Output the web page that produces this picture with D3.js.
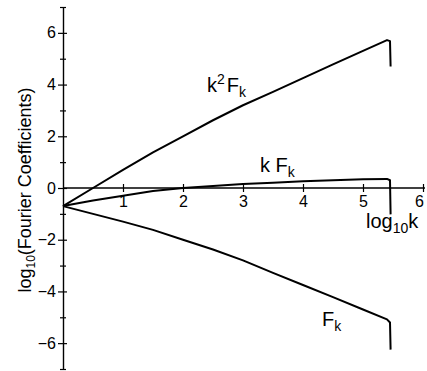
<!DOCTYPE html>
<html>
<head>
<meta charset="utf-8">
<script src="https://cdn.jsdelivr.net/npm/d3@7"></script>
<style>
  html, body { margin: 0; padding: 0; background: #fff; }
  svg { display: block; font-family: "Liberation Sans", Arial, sans-serif; }
</style>
</head>
<body>
<svg id="chart" width="427" height="371"></svg>
<script>
// log10 of the wavenumber k
const logk = [0, 0.5, 1, 1.5, 2, 2.5, 3, 3.5, 4, 4.5, 5, 5.4, 5.45, 5.46];
// log10 of the Fourier coefficients, three weightings
const k2Fk = [-0.7, 0.0, 0.7, 1.38, 2.0, 2.62, 3.2, 3.72, 4.25, 4.78, 5.3, 5.72, 5.68, 4.7];
const kFk  = [-0.7, -0.48, -0.3, -0.12, 0.0, 0.08, 0.15, 0.2, 0.26, 0.3, 0.34, 0.35, 0.3, -1.02];
const Fk   = [-0.7, -1.0, -1.3, -1.62, -2.0, -2.38, -2.8, -3.28, -3.75, -4.22, -4.7, -5.08, -5.2, -6.25];

const xMajor = [1, 2, 3, 4, 5, 6];
const yMajor = [-6, -4, -2, 0, 2, 4, 6];
const yMinor = [-7, -5, -3, -1, 1, 3, 5, 7];

const svg = d3.select("#chart");

const x = d3.scaleLinear().domain([0, 6]).range([63, 423]);
const y = d3.scaleLinear().domain([-7, 7]).range([369, 7]);

// y axis through x = 0, ticks crossing the line
const yAxisG = svg.append("g")
  .attr("transform", `translate(${x(0)},0)`)
  .call(d3.axisLeft(y).tickValues(yMajor).tickSize(5).tickSizeOuter(0).tickPadding(2)
    .tickFormat(d3.format("d")));
yAxisG.selectAll(".tick line").attr("x1", 4);

const yMinorG = svg.append("g")
  .attr("transform", `translate(${x(0)},0)`)
  .call(d3.axisLeft(y).tickValues(yMinor).tickSize(3).tickSizeOuter(0).tickFormat(""));
yMinorG.selectAll(".tick line").attr("x1", 3);
yMinorG.select(".domain").remove();

// x axis through y = 0
const xAxisG = svg.append("g")
  .attr("transform", `translate(0,${y(0)})`)
  .call(d3.axisBottom(x).tickValues(xMajor).tickSize(4).tickSizeOuter(0).tickPadding(4)
    .tickFormat(d3.format("d")));
xAxisG.selectAll(".tick line").attr("y1", -4);
xAxisG.selectAll(".tick text").filter(d => d === 6).attr("dx", -4);
xAxisG.select(".domain").attr("d", `M${x(0)},0H${x(6) + 2}`);

svg.selectAll(".domain").attr("stroke", "#000").attr("stroke-width", 1.4);
svg.selectAll(".tick line").attr("stroke", "#000").attr("stroke-width", 1.2);
svg.selectAll(".tick text").attr("font-size", 16).attr("fill", "#000")
  .attr("font-family", "'Liberation Sans', Arial, sans-serif");

// curves
const line = d3.line()
  .x((d, i) => x(logk[i]))
  .y(d => y(d));

[k2Fk, kFk, Fk].forEach(series => {
  svg.append("path")
    .datum(series)
    .attr("d", line)
    .attr("fill", "none")
    .attr("stroke", "#000")
    .attr("stroke-width", 2)
    .attr("stroke-linejoin", "round");
});

// labelled text with sub/superscripts
function label(xp, yp, parts, size) {
  const t = svg.append("text")
    .attr("x", xp).attr("y", yp)
    .attr("font-size", size).attr("fill", "#000");
  parts.forEach(p => {
    const s = t.append("tspan").text(p.t);
    if (p.sub) s.attr("font-size", size * 0.7).attr("dy", size * 0.25);
    if (p.sup) s.attr("font-size", size * 0.7).attr("dy", -size * 0.38);
    if (p.dy) s.attr("dy", p.dy);
    if (p.dx) s.attr("dx", p.dx);
  });
  return t;
}

label(207, 92, [{t: "k"}, {t: "2", sup: true}, {t: "F", dy: 20 * 0.38, dx: 2}, {t: "k", sub: true}], 20);
label(260, 172, [{t: "k F"}, {t: "k", sub: true}], 20);
label(322, 326, [{t: "F"}, {t: "k", sub: true}], 20);
label(366, 228, [{t: "log"}, {t: "10", sub: true}, {t: "k", dy: -20 * 0.25}], 20);

// y axis title
const yt = svg.append("text")
  .attr("transform", "translate(31,190) rotate(-90)")
  .attr("text-anchor", "middle")
  .attr("font-size", 18).attr("fill", "#000");
yt.append("tspan").text("log");
yt.append("tspan").text("10").attr("font-size", 12).attr("dy", 4);
yt.append("tspan").text("(Fourier Coefficients)").attr("dy", -4);
</script>
</body>
</html>
